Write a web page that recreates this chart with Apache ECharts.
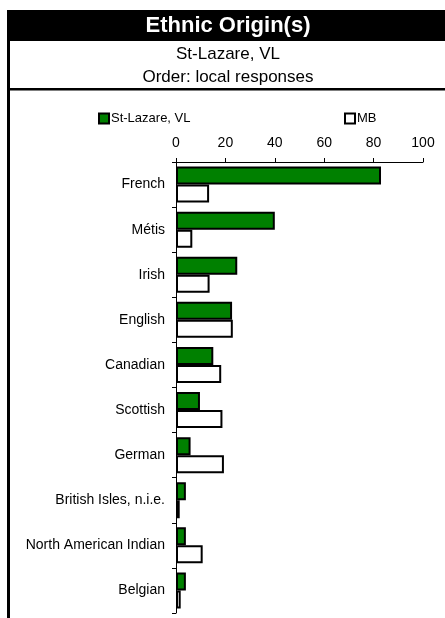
<!DOCTYPE html>
<html>
<head>
<meta charset="utf-8">
<script src="https://cdn.jsdelivr.net/npm/echarts@6/dist/echarts.min.js"></script>
<style>
html,body{margin:0;padding:0;background:#fff;}
#c{width:445px;height:618px;}
</style>
</head>
<body>
<div id="c"></div>
<script>
var categories = ["French","Métis","Irish","English","Canadian","Scottish","German","British Isles, n.i.e.","North American Indian","Belgian"];
var localValues = [83, 40, 24.8, 22.7, 15.1, 9.7, 5.9, 4.0, 4.0, 4.0];
var mbValues = [13.4, 6.6, 13.6, 23.0, 18.3, 18.8, 19.4, 1.5, 10.8, 1.9];
var seriesNames = ["St-Lazare, VL", "MB"];
var titleText = "Ethnic Origin(s)";
var subtitle1 = "St-Lazare, VL";
var subtitle2 = "Order: local responses";

var FONT = "'Liberation Sans', Arial, sans-serif";
var chart = echarts.init(document.getElementById('c'));
chart.setOption({
  animation: false,
  textStyle: {fontFamily: FONT, color: '#000'},
  graphic: [
    {type: 'rect', shape: {x: 7, y: 10, width: 438, height: 31}, style: {fill: '#000'}},
    {type: 'rect', shape: {x: 7, y: 10, width: 3, height: 608}, style: {fill: '#000'}},
    {type: 'rect', shape: {x: 7, y: 88, width: 438, height: 2.5}, style: {fill: '#000'}},
    {type: 'text', x: 228, y: 26, style: {text: titleText, fill: '#fff', font: 'bold 22px ' + FONT, textAlign: 'center', textVerticalAlign: 'middle'}},
    {type: 'text', x: 228, y: 54, style: {text: subtitle1, fill: '#000', font: '17px ' + FONT, textAlign: 'center', textVerticalAlign: 'middle'}},
    {type: 'text', x: 228, y: 77, style: {text: subtitle2, fill: '#000', font: '17px ' + FONT, textAlign: 'center', textVerticalAlign: 'middle'}}
  ],
  legend: [
    {data: [seriesNames[0]], left: 93, top: 107, itemWidth: 10, itemHeight: 10, icon: 'rect', itemGap: 0,
     textStyle: {fontSize: 13, fontFamily: FONT, color: '#000', padding: [0,0,0,-3]}},
    {data: [seriesNames[1]], left: 339, top: 107, itemWidth: 10, itemHeight: 10, icon: 'rect', itemGap: 0,
     textStyle: {fontSize: 13, fontFamily: FONT, color: '#000', padding: [0,0,0,-3]}}
  ],
  grid: {left: 176, right: 22, top: 162, height: 451, containLabel: false},
  xAxis: {
    type: 'value', position: 'top', min: 0, max: 100, interval: 20,
    axisLine: {show: true, lineStyle: {color: '#000', width: 1}},
    axisTick: {show: true, length: 4, lineStyle: {color: '#000'}},
    axisLabel: {fontSize: 14, color: '#000', margin: 12, fontFamily: FONT},
    splitLine: {show: false}
  },
  yAxis: {
    type: 'category', data: categories, inverse: true,
    axisLine: {show: true, lineStyle: {color: '#000', width: 1}},
    axisTick: {show: true, length: 4, lineStyle: {color: '#000'}},
    axisLabel: {fontSize: 14, color: '#000', margin: 11, fontFamily: FONT}
  },
  series: [
    {name: seriesNames[0], type: 'bar', data: localValues, barWidth: 18, barGap: '0%',
     itemStyle: {color: '#008000', borderColor: '#000', borderWidth: 2}},
    {name: seriesNames[1], type: 'bar', data: mbValues, barWidth: 18, barGap: '0%',
     itemStyle: {color: '#fff', borderColor: '#000', borderWidth: 2}}
  ]
});
</script>
</body>
</html>
